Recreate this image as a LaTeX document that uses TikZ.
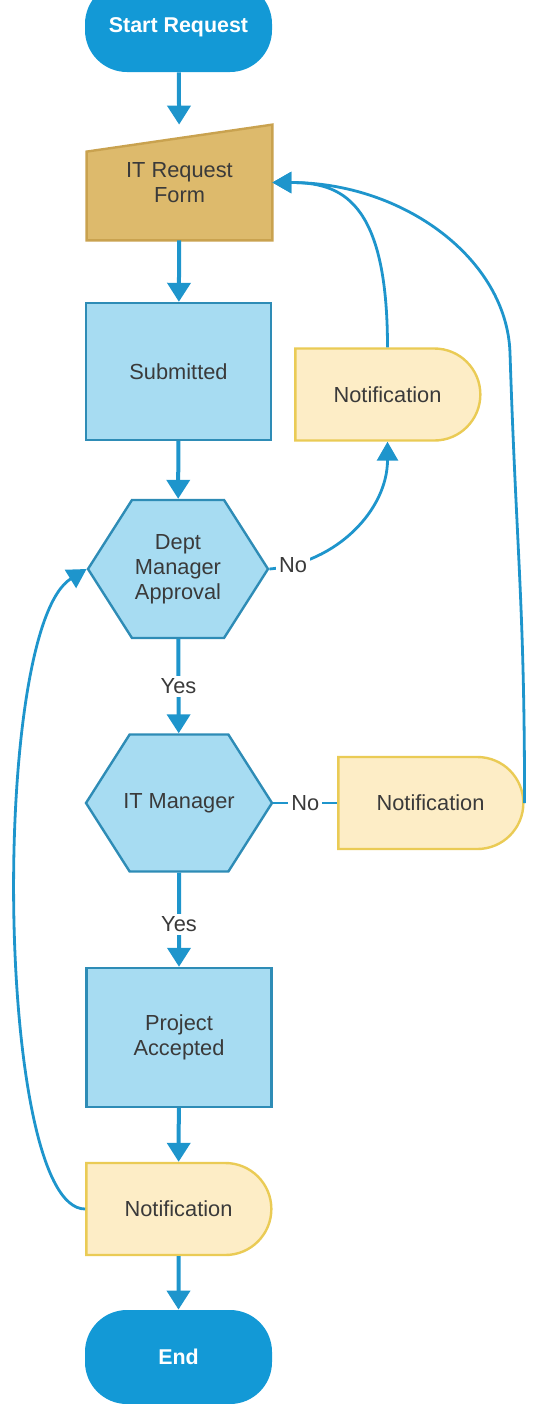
\documentclass[tikz,border=0pt]{standalone}
\usepackage{fontspec}
\setmainfont{Liberation Sans}
\usetikzlibrary{arrows.meta,positioning,shapes.misc,shapes.symbols,backgrounds}
\definecolor{FlowBlue}{HTML}{1399D6}
\definecolor{LineBlue}{HTML}{1E95CC}
\definecolor{StepFill}{HTML}{A7DCF2}
\definecolor{StepEdge}{HTML}{2E8CB6}
\definecolor{FormFill}{HTML}{DDBA6C}
\definecolor{FormEdge}{HTML}{C9A24F}
\definecolor{NoteFill}{HTML}{FDEDC6}
\definecolor{NoteEdge}{HTML}{EACB55}
\definecolor{InkGray}{HTML}{3A3A3A}

\begin{document}
\begin{tikzpicture}[x=0.5pt,y=-0.5pt,
    font=\fontsize{10.9}{12.5}\selectfont,text=InkGray,
    term/.style={rectangle,rounded corners=21pt,fill=FlowBlue,text=white,font=\fontsize{10.7}{12.5}\selectfont\bfseries,minimum width=93.5pt,inner sep=0pt},
    stepbox/.style={rectangle,draw=StepEdge,line width=1.2pt,fill=StepFill,minimum width=92.5pt,minimum height=68.5pt,align=center,inner sep=0pt},
    hexbox/.style={signal,signal to=east and west,signal pointer angle=115,draw=StepEdge,line width=1.2pt,fill=StepFill,minimum width=90pt,minimum height=69pt,align=center,inner sep=0pt},
    note/.style={rounded rectangle,rounded rectangle left arc=none,draw=NoteEdge,line width=1.2pt,fill=NoteFill,minimum width=92.5pt,minimum height=46pt,inner sep=0pt},
    lbl/.style={fill=white,inner sep=1.5pt,text=InkGray},
    arr/.style={-{Triangle[width=11.5pt,length=9.5pt]},line width=2pt,LineBlue},
    back/.style={-{Triangle[width=10.5pt,length=9.5pt]},line width=1.4pt,LineBlue}]
  \useasboundingbox (0,0) rectangle (532,1404);
  % main column
  \node[term,minimum height=45pt] (start) at (178.5,27) {Start Request};
  \node[minimum width=92.5pt,minimum height=57.5pt,align=center,inner sep=0pt] (form) at (179.5,182.5) {\raisebox{-2pt}{\shortstack{IT Request\\Form}}};
  \node[stepbox] (sub) at (178.5,371.5) {Submitted};
  \node[hexbox] (dept) at (178,569) {Dept\\Manager\\Approval};
  \node[hexbox,minimum width=93pt,minimum height=68.5pt,inner xsep=-8pt] (itm) at (179,803) {IT Manager};
  \node[stepbox,minimum height=69.5pt] (proj) at (179,1037.5) {Project\\Accepted};
  \node[note] (note3) at (178.5,1209) {Notification};
  \node[term,minimum height=47pt] (end) at (178.5,1357) {End};
  % side notes
  \node[note] (note1) at (387.5,394.5) {Notification};
  \node[note] (note2) at (430.5,803) {Notification};
  \coordinate (bend) at (510,353);
  \begin{scope}[on background layer]
    \filldraw[draw=FormEdge,fill=FormFill,line width=1.2pt] (form.south west) -- (form.south east) -- (form.north east) -- ([yshift=-13.5pt]form.north west) -- cycle;
  \end{scope}
  \draw[arr] (start) -- (form);
  \draw[arr] (form) -- (sub);
  \draw[arr] (sub) -- (dept);
  \draw[arr] (dept) -- node[lbl]{Yes} (itm);
  \draw[arr] (itm) -- node[lbl,pos=.55]{Yes} (proj);
  \draw[arr] (proj) -- (note3);
  \draw[arr] (note3) -- (end);
  % loops back
  \draw[back] (dept.east) to[out=5,in=-90] node[lbl,pos=.12]{No} (note1.south);
  \draw[line width=1.4pt,LineBlue] (itm.east) -- node[lbl]{No} (note2.west);
  \draw[back] (note1.north) .. controls +(0,-148) and +(68,0) .. (form.east);
  \draw[back] (note2.east) .. controls +(0,-200) and +(6.5,200) .. (bend) .. controls +(-3,-94) and +(131,0) .. (form.east);
  \draw[back] (note3.west) .. controls +(-90,0) and +(-97,60) .. (dept.west);
\end{tikzpicture}
\end{document}
